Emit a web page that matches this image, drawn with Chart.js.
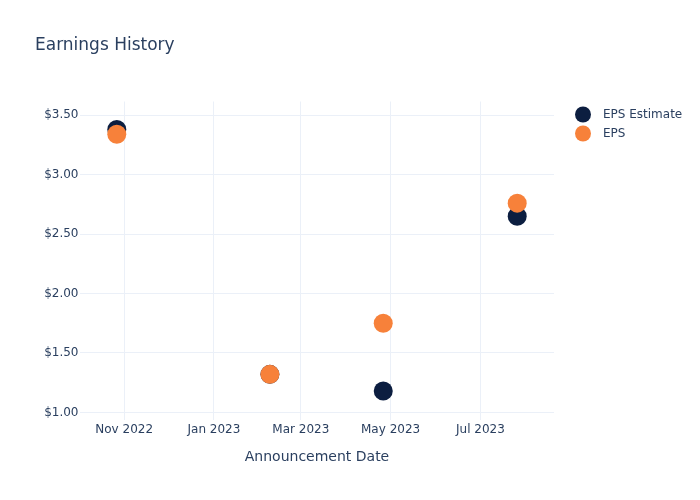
<!DOCTYPE html>
<html>
<head>
<meta charset="utf-8">
<script src="https://cdn.jsdelivr.net/npm/chart.js@4/dist/chart.umd.min.js"></script>
<style>
  body { margin: 0; background: #fff; }
  canvas { display: block; }
</style>
</head>
<body>
<canvas id="chart" width="700" height="500"></canvas>
<script>
// dane
const announceDates = ['2022-10-27', '2023-02-08', '2023-04-26', '2023-07-26'];
const epsEstimate = [3.38, 1.32, 1.18, 2.65];
const epsActual = [3.34, 1.32, 1.75, 2.76];
const xTickDates = ['2022-11-01', '2023-01-01', '2023-03-01', '2023-05-01', '2023-07-01'];
const xTickLabels = ['Nov 2022', 'Jan 2023', 'Mar 2023', 'May 2023', 'Jul 2023'];
const yTicks = [1.0, 1.5, 2.0, 2.5, 3.0, 3.5];

const FONT = 'DejaVu Sans, sans-serif';
const TEXT = '#2a3f5f';
const GRID = '#ebf0f8';
const NAVY = '#0c1e40';
const ORANGE = '#f7813a';

const t = d => Date.parse(d + 'T00:00:00Z');
const points = vals => vals.map((v, i) => ({ x: t(announceDates[i]), y: v }));

// tytuł i legenda rysowane ręcznie
const decorPlugin = {
  id: 'decor',
  afterDraw(chart) {
    const ctx = chart.ctx;
    ctx.save();
    ctx.fillStyle = TEXT;
    ctx.font = '17px ' + FONT;
    ctx.textBaseline = 'middle';
    ctx.textAlign = 'left';
    ctx.fillText('Earnings History', 35, 45.5);

    ctx.font = '12px ' + FONT;
    chart.data.datasets.forEach((ds, i) => {
      const y = 115 + i * 19;
      ctx.beginPath();
      ctx.arc(583, y - 0.5, 8, 0, Math.PI * 2);
      ctx.fillStyle = ds.backgroundColor;
      ctx.fill();
      ctx.fillStyle = TEXT;
      ctx.fillText(ds.label, 603, y);
    });
    ctx.restore();
  }
};

new Chart(document.getElementById('chart').getContext('2d'), {
  type: 'scatter',
  data: {
    datasets: [
      {
        label: 'EPS Estimate',
        data: points(epsEstimate),
        backgroundColor: NAVY,
        borderWidth: 0,
        pointRadius: 9.5,
        order: 1
      },
      {
        label: 'EPS',
        data: points(epsActual),
        backgroundColor: ORANGE,
        borderWidth: 0,
        pointRadius: 9.5,
        order: 0
      }
    ]
  },
  options: {
    responsive: false,
    animation: false,
    layout: { padding: { top: 101.5, right: 146, left: 0, bottom: 0 } },
    plugins: {
      legend: { display: false },
      title: { display: false },
      tooltip: { enabled: false }
    },
    scales: {
      x: {
        type: 'linear',
        min: t('2022-10-02'),
        max: t('2023-08-20'),
        afterBuildTicks: scale => { scale.ticks = xTickDates.map(d => ({ value: t(d) })); },
        afterFit: scale => { scale.height = 80; },
        grid: { color: GRID, drawTicks: false },
        border: { display: false },
        ticks: {
          padding: 3,
          maxRotation: 0,
          color: TEXT,
          font: { family: FONT, size: 12 },
          callback: value => xTickLabels[xTickDates.findIndex(d => t(d) === value)]
        },
        title: {
          display: true,
          text: 'Announcement Date',
          color: TEXT,
          font: { family: FONT, size: 14 },
          padding: { top: 4, bottom: 34 }
        }
      },
      y: {
        min: 0.936,
        max: 3.615,
        afterBuildTicks: scale => { scale.ticks = yTicks.map(v => ({ value: v })); },
        afterFit: scale => { scale.width = 80; },
        grid: { color: GRID, drawTicks: false },
        border: { display: false },
        ticks: {
          padding: 1.5,
          color: TEXT,
          font: { family: FONT, size: 12 },
          callback: v => '$' + v.toFixed(2)
        }
      }
    }
  },
  plugins: [decorPlugin]
});
</script>
</body>
</html>
